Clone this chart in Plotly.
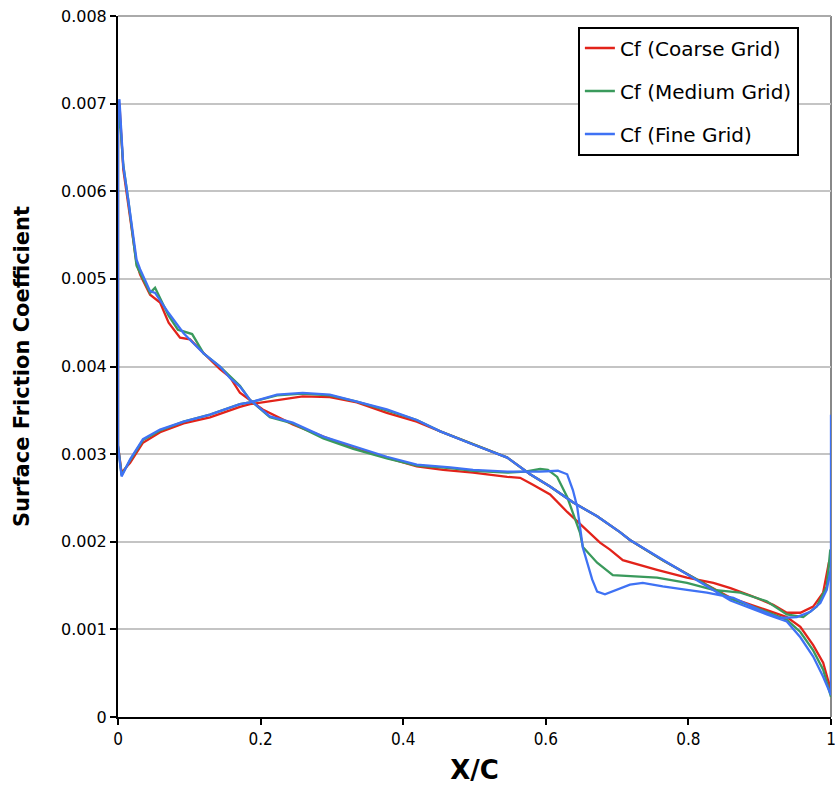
import plotly.graph_objects as go

# ---- data ----
# Branch with low leading-edge value (rising from x/c ~ 0), listed from LE to TE
lower_x = [0.0, 0.005, 0.017, 0.035, 0.059, 0.092, 0.129, 0.171, 0.185, 0.223, 0.259, 0.297,
           0.335, 0.377, 0.419, 0.452, 0.498, 0.546, 0.578, 0.606, 0.638, 0.672, 0.704, 0.718,
           0.764, 0.812, 0.859, 0.91, 0.938, 0.957, 0.975, 0.989, 1.0]
red_lower = [0.0031, 0.00279, 0.0029, 0.00313, 0.00325, 0.00335, 0.00342, 0.00354, 0.00357, 0.00362,
             0.00366, 0.00365, 0.00359, 0.00347, 0.00337, 0.00326, 0.00311, 0.00296, 0.00277, 0.00263,
             0.00245, 0.00229, 0.00211, 0.00202, 0.00179, 0.00157, 0.00136, 0.00122, 0.00114, 0.00103,
             0.00082, 0.00062, 0.0003]
green_lower = [0.0031, 0.00276, 0.00293, 0.00316, 0.00327, 0.00337, 0.00345, 0.00357, 0.00359, 0.00367,
               0.00369, 0.00367, 0.0036, 0.0035, 0.00339, 0.00326, 0.00311, 0.00296, 0.00277, 0.00263,
               0.00245, 0.00229, 0.00211, 0.00202, 0.00179, 0.00157, 0.00135, 0.0012, 0.00111, 0.00097,
               0.00076, 0.00054, 0.00023]
blue_lower = [0.0031, 0.002746, 0.00294, 0.00317, 0.00328, 0.00337, 0.00345, 0.00357, 0.00359, 0.00368,
              0.0037, 0.00368, 0.0036, 0.00351, 0.00339, 0.00326, 0.00311, 0.00296, 0.00277, 0.00263,
              0.00245, 0.00229, 0.00211, 0.00202, 0.00179, 0.00156, 0.00133, 0.00117, 0.00109, 0.00091,
              0.00069, 0.00046, 0.00025]

# Branch with the leading-edge peak, listed from LE to TE
red_upper_x = [0.0, 0.002, 0.0074, 0.0144, 0.019, 0.026, 0.031, 0.045, 0.059, 0.071, 0.087, 0.101,
               0.129, 0.143, 0.157, 0.171, 0.203, 0.245, 0.288, 0.33, 0.377, 0.419, 0.456, 0.498,
               0.546, 0.564, 0.582, 0.606, 0.63, 0.652, 0.676, 0.69, 0.708, 0.756, 0.798, 0.835,
               0.859, 0.886, 0.919, 0.938, 0.957, 0.975, 0.989, 0.997, 1.0]
red_upper = [0.0068, 0.0070, 0.00625, 0.00585, 0.0056, 0.00518, 0.00505, 0.00482, 0.00473, 0.0045,
             0.00433, 0.00431, 0.00408, 0.00397, 0.00388, 0.0037, 0.00351, 0.00334, 0.0032, 0.00307,
             0.00296, 0.00286, 0.00282, 0.00279, 0.00274, 0.00273, 0.00265, 0.00254, 0.00234, 0.00217,
             0.00199, 0.00191, 0.00179, 0.00168, 0.00159, 0.00153, 0.00147, 0.00139, 0.00128, 0.00119,
             0.00119, 0.00126, 0.00142, 0.00176, 0.0018]

green_upper_x = [0.0, 0.002, 0.0074, 0.0144, 0.019, 0.026, 0.031, 0.045, 0.052, 0.059, 0.071, 0.084,
                 0.104, 0.12, 0.143, 0.171, 0.185, 0.213, 0.245, 0.288, 0.33, 0.377, 0.419, 0.466,
                 0.498, 0.546, 0.571, 0.592, 0.603, 0.616, 0.63, 0.638, 0.648, 0.652, 0.672, 0.694,
                 0.718, 0.756, 0.798, 0.835, 0.873, 0.91, 0.938, 0.961, 0.98, 0.994, 0.999, 1.0]
green_upper = [0.0067, 0.0069, 0.0063, 0.0059, 0.0056, 0.00515, 0.00507, 0.00484, 0.0049, 0.00478,
               0.00458, 0.00442, 0.00437, 0.00415, 0.004, 0.00378, 0.00362, 0.00342, 0.00335, 0.00318,
               0.00306, 0.00295, 0.00287, 0.00284, 0.00281, 0.00279, 0.0028, 0.00283, 0.00282, 0.00274,
               0.00251, 0.00233, 0.0021, 0.00194, 0.00176, 0.00162, 0.00161, 0.00159, 0.00153, 0.00145,
               0.00142, 0.00132, 0.00117, 0.00114, 0.00126, 0.00149, 0.00191, 0.0019]

blue_upper_x = [0.0, 0.002, 0.0074, 0.0144, 0.019, 0.026, 0.031, 0.045, 0.052, 0.071, 0.092, 0.12,
                0.143, 0.157, 0.171, 0.185, 0.213, 0.245, 0.288, 0.33, 0.377, 0.419, 0.466, 0.498,
                0.546, 0.574, 0.592, 0.617, 0.63, 0.638, 0.644, 0.648, 0.652, 0.665, 0.672, 0.683,
                0.7, 0.718, 0.736, 0.764, 0.798, 0.826, 0.863, 0.9, 0.928, 0.952, 0.971, 0.985,
                0.994, 0.999, 1.0]
blue_upper = [0.0069, 0.00705, 0.00629, 0.0059, 0.00564, 0.00522, 0.00511, 0.00486, 0.00484, 0.00461,
              0.00438, 0.00415, 0.004, 0.00387, 0.00377, 0.00362, 0.00343, 0.00336, 0.0032, 0.00309,
              0.00297, 0.00288, 0.00285, 0.00282, 0.0028, 0.0028, 0.0028, 0.00281, 0.00277, 0.00259,
              0.0024, 0.00217, 0.00193, 0.00157, 0.00143, 0.0014, 0.00145, 0.00151, 0.00153, 0.00149,
              0.00145, 0.00142, 0.00136, 0.00122, 0.00113, 0.00114, 0.0012, 0.0013, 0.00145, 0.00165,
              0.0017]

# trailing-edge closing value of each loop
te_close = {"red": 0.0018, "green": 0.0019, "blue": 0.00345}

names = ["Cf (Coarse Grid)", "Cf (Medium Grid)", "Cf (Fine Grid)"]
colors = ["#e2231a", "#3a9a5c", "#3f72f4"]

x_tickvals = [0, 0.2, 0.4, 0.6, 0.8, 1.0]
x_ticktext = ["0", "0.2", "0.4", "0.6", "0.8", "1"]
y_tickvals = [0, 0.001, 0.002, 0.003, 0.004, 0.005, 0.006, 0.007, 0.008]
y_ticktext = ["0", "0.001", "0.002", "0.003", "0.004", "0.005", "0.006", "0.007", "0.008"]


def loop(lx, ly, ux, uy, close):
    xs = [1.0] + lx[::-1] + ux
    ys = [close] + ly[::-1] + uy
    return xs, ys


series = [
    loop(lower_x, red_lower, red_upper_x, red_upper, te_close["red"]),
    loop(lower_x, green_lower, green_upper_x, green_upper, te_close["green"]),
    loop(lower_x, blue_lower, blue_upper_x, blue_upper, te_close["blue"]),
]

FONT = "DejaVu Sans, Verdana, sans-serif"

fig = go.Figure()
for i, ((xs, ys), name, col) in enumerate(zip(series, names, colors)):
    fig.add_trace(go.Scatter(x=xs, y=ys, mode="lines", name=name, legendgroup=str(i),
                             line=dict(color=col, width=2.3)))

fig.update_layout(
    width=835, height=793,
    margin=dict(l=118, r=4, t=16, b=76, autoexpand=False),
    paper_bgcolor="white", plot_bgcolor="white",
    showlegend=True,
    legend=dict(x=0.645, y=0.985, xanchor="left", yanchor="top",
                bgcolor="white", bordercolor="black", borderwidth=2,
                font=dict(family=FONT, size=20, color="black"),
                tracegroupgap=14, itemwidth=30),
    shapes=[
        dict(type="line", xref="paper", yref="paper", x0=1, x1=1, y0=0, y1=1,
             line=dict(color="#888888", width=2), layer="below"),
        dict(type="line", xref="paper", yref="paper", x0=0, x1=1, y0=1, y1=1,
             line=dict(color="#aaaaaa", width=2), layer="below"),
    ],
)

fig.update_xaxes(
    range=[0, 1], tickvals=x_tickvals, ticktext=x_ticktext,
    showgrid=False, zeroline=False,
    showline=True, linecolor="black", linewidth=2,
    ticks="outside", ticklen=6, tickwidth=2, tickcolor="black",
    ticklabeloverflow="allow",
    tickfont=dict(family="Liberation Sans Narrow, DejaVu Sans Condensed, sans-serif", size=17, color="black"),
    title=dict(text="<b>X/C</b>", font=dict(family=FONT, size=26, color="black"),
               standoff=12),
)
fig.update_yaxes(
    range=[0, 0.008], tickvals=y_tickvals, ticktext=y_ticktext,
    showgrid=True, gridcolor="#c4c4c4", gridwidth=2, zeroline=False,
    showline=True, linecolor="black", linewidth=2,
    ticks="outside", ticklen=6, tickwidth=2, tickcolor="black",
    ticklabeloverflow="allow",
    tickfont=dict(family=FONT, size=16, color="black"),
    title=dict(text="<b>Surface Friction Coefficient</b>",
               font=dict(family=FONT, size=21, color="black"),
               standoff=26),
)

fig.write_html("out.html",
               config={"displayModeBar": False},
               post_script="document.body.style.margin='0';document.body.style.overflow='hidden';")
